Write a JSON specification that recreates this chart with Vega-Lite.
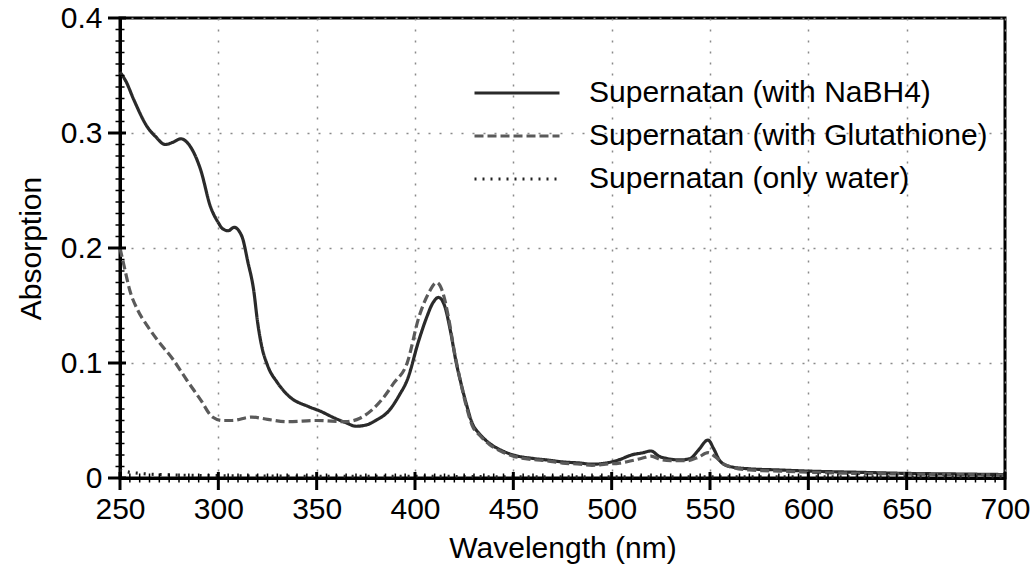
{
  "$schema": "https://vega.github.io/schema/vega-lite/v6.json",
  "width": 885,
  "height": 460,
  "autosize": {"type": "none"},
  "padding": {"left": 120, "top": 18, "right": 28, "bottom": 100},
  "config": {
    "font": "Liberation Sans",
    "view": {"stroke": "black", "strokeWidth": 3},
    "legend": {"padding": 0},
    "axis": {"labelFlush": false}
  },
  "datasets": {
    "curves": [
      {"s": "Supernatan (with NaBH4)", "wl": 250, "a": 0.353},
      {"s": "Supernatan (with NaBH4)", "wl": 253, "a": 0.345},
      {"s": "Supernatan (with NaBH4)", "wl": 257, "a": 0.329},
      {"s": "Supernatan (with NaBH4)", "wl": 264, "a": 0.305},
      {"s": "Supernatan (with NaBH4)", "wl": 268, "a": 0.297},
      {"s": "Supernatan (with NaBH4)", "wl": 273, "a": 0.290},
      {"s": "Supernatan (with NaBH4)", "wl": 277, "a": 0.292},
      {"s": "Supernatan (with NaBH4)", "wl": 281, "a": 0.295},
      {"s": "Supernatan (with NaBH4)", "wl": 284, "a": 0.292},
      {"s": "Supernatan (with NaBH4)", "wl": 291, "a": 0.268},
      {"s": "Supernatan (with NaBH4)", "wl": 296, "a": 0.236},
      {"s": "Supernatan (with NaBH4)", "wl": 300, "a": 0.222},
      {"s": "Supernatan (with NaBH4)", "wl": 302, "a": 0.217},
      {"s": "Supernatan (with NaBH4)", "wl": 305, "a": 0.215},
      {"s": "Supernatan (with NaBH4)", "wl": 308, "a": 0.218},
      {"s": "Supernatan (with NaBH4)", "wl": 312, "a": 0.210},
      {"s": "Supernatan (with NaBH4)", "wl": 315, "a": 0.188},
      {"s": "Supernatan (with NaBH4)", "wl": 318, "a": 0.163},
      {"s": "Supernatan (with NaBH4)", "wl": 320, "a": 0.135},
      {"s": "Supernatan (with NaBH4)", "wl": 322, "a": 0.115},
      {"s": "Supernatan (with NaBH4)", "wl": 325, "a": 0.098},
      {"s": "Supernatan (with NaBH4)", "wl": 330, "a": 0.083},
      {"s": "Supernatan (with NaBH4)", "wl": 336, "a": 0.071},
      {"s": "Supernatan (with NaBH4)", "wl": 346, "a": 0.062},
      {"s": "Supernatan (with NaBH4)", "wl": 352, "a": 0.058},
      {"s": "Supernatan (with NaBH4)", "wl": 358, "a": 0.053},
      {"s": "Supernatan (with NaBH4)", "wl": 365, "a": 0.048},
      {"s": "Supernatan (with NaBH4)", "wl": 370, "a": 0.045},
      {"s": "Supernatan (with NaBH4)", "wl": 375, "a": 0.046},
      {"s": "Supernatan (with NaBH4)", "wl": 380, "a": 0.050},
      {"s": "Supernatan (with NaBH4)", "wl": 387, "a": 0.059},
      {"s": "Supernatan (with NaBH4)", "wl": 392, "a": 0.072},
      {"s": "Supernatan (with NaBH4)", "wl": 396, "a": 0.085},
      {"s": "Supernatan (with NaBH4)", "wl": 402, "a": 0.120},
      {"s": "Supernatan (with NaBH4)", "wl": 406, "a": 0.140},
      {"s": "Supernatan (with NaBH4)", "wl": 409, "a": 0.152},
      {"s": "Supernatan (with NaBH4)", "wl": 412, "a": 0.157},
      {"s": "Supernatan (with NaBH4)", "wl": 415, "a": 0.150},
      {"s": "Supernatan (with NaBH4)", "wl": 418, "a": 0.128},
      {"s": "Supernatan (with NaBH4)", "wl": 421, "a": 0.100},
      {"s": "Supernatan (with NaBH4)", "wl": 423, "a": 0.085},
      {"s": "Supernatan (with NaBH4)", "wl": 426, "a": 0.065},
      {"s": "Supernatan (with NaBH4)", "wl": 429, "a": 0.048},
      {"s": "Supernatan (with NaBH4)", "wl": 433, "a": 0.038},
      {"s": "Supernatan (with NaBH4)", "wl": 438, "a": 0.030},
      {"s": "Supernatan (with NaBH4)", "wl": 444, "a": 0.024},
      {"s": "Supernatan (with NaBH4)", "wl": 450, "a": 0.020},
      {"s": "Supernatan (with NaBH4)", "wl": 460, "a": 0.017},
      {"s": "Supernatan (with NaBH4)", "wl": 467, "a": 0.0157},
      {"s": "Supernatan (with NaBH4)", "wl": 475, "a": 0.014},
      {"s": "Supernatan (with NaBH4)", "wl": 484, "a": 0.013},
      {"s": "Supernatan (with NaBH4)", "wl": 490, "a": 0.012},
      {"s": "Supernatan (with NaBH4)", "wl": 497, "a": 0.013},
      {"s": "Supernatan (with NaBH4)", "wl": 504, "a": 0.016},
      {"s": "Supernatan (with NaBH4)", "wl": 510, "a": 0.020},
      {"s": "Supernatan (with NaBH4)", "wl": 516, "a": 0.022},
      {"s": "Supernatan (with NaBH4)", "wl": 520, "a": 0.0235},
      {"s": "Supernatan (with NaBH4)", "wl": 524, "a": 0.019},
      {"s": "Supernatan (with NaBH4)", "wl": 528, "a": 0.017},
      {"s": "Supernatan (with NaBH4)", "wl": 535, "a": 0.0157},
      {"s": "Supernatan (with NaBH4)", "wl": 540, "a": 0.017},
      {"s": "Supernatan (with NaBH4)", "wl": 544, "a": 0.024},
      {"s": "Supernatan (with NaBH4)", "wl": 549, "a": 0.033},
      {"s": "Supernatan (with NaBH4)", "wl": 552, "a": 0.025},
      {"s": "Supernatan (with NaBH4)", "wl": 555, "a": 0.015},
      {"s": "Supernatan (with NaBH4)", "wl": 560, "a": 0.010},
      {"s": "Supernatan (with NaBH4)", "wl": 570, "a": 0.008},
      {"s": "Supernatan (with NaBH4)", "wl": 585, "a": 0.007},
      {"s": "Supernatan (with NaBH4)", "wl": 600, "a": 0.006},
      {"s": "Supernatan (with NaBH4)", "wl": 625, "a": 0.005},
      {"s": "Supernatan (with NaBH4)", "wl": 650, "a": 0.004},
      {"s": "Supernatan (with NaBH4)", "wl": 675, "a": 0.0035},
      {"s": "Supernatan (with NaBH4)", "wl": 700, "a": 0.003},

      {"s": "Supernatan (with Glutathione)", "wl": 250, "a": 0.200},
      {"s": "Supernatan (with Glutathione)", "wl": 252, "a": 0.185},
      {"s": "Supernatan (with Glutathione)", "wl": 255, "a": 0.163},
      {"s": "Supernatan (with Glutathione)", "wl": 259, "a": 0.146},
      {"s": "Supernatan (with Glutathione)", "wl": 264, "a": 0.132},
      {"s": "Supernatan (with Glutathione)", "wl": 269, "a": 0.120},
      {"s": "Supernatan (with Glutathione)", "wl": 277, "a": 0.103},
      {"s": "Supernatan (with Glutathione)", "wl": 284, "a": 0.085},
      {"s": "Supernatan (with Glutathione)", "wl": 291, "a": 0.068},
      {"s": "Supernatan (with Glutathione)", "wl": 297, "a": 0.053},
      {"s": "Supernatan (with Glutathione)", "wl": 302, "a": 0.050},
      {"s": "Supernatan (with Glutathione)", "wl": 307, "a": 0.050},
      {"s": "Supernatan (with Glutathione)", "wl": 317, "a": 0.053},
      {"s": "Supernatan (with Glutathione)", "wl": 325, "a": 0.051},
      {"s": "Supernatan (with Glutathione)", "wl": 335, "a": 0.049},
      {"s": "Supernatan (with Glutathione)", "wl": 350, "a": 0.050},
      {"s": "Supernatan (with Glutathione)", "wl": 365, "a": 0.049},
      {"s": "Supernatan (with Glutathione)", "wl": 372, "a": 0.052},
      {"s": "Supernatan (with Glutathione)", "wl": 378, "a": 0.059},
      {"s": "Supernatan (with Glutathione)", "wl": 384, "a": 0.070},
      {"s": "Supernatan (with Glutathione)", "wl": 389, "a": 0.082},
      {"s": "Supernatan (with Glutathione)", "wl": 396, "a": 0.100},
      {"s": "Supernatan (with Glutathione)", "wl": 402, "a": 0.140},
      {"s": "Supernatan (with Glutathione)", "wl": 407, "a": 0.161},
      {"s": "Supernatan (with Glutathione)", "wl": 411, "a": 0.170},
      {"s": "Supernatan (with Glutathione)", "wl": 414, "a": 0.162},
      {"s": "Supernatan (with Glutathione)", "wl": 417, "a": 0.140},
      {"s": "Supernatan (with Glutathione)", "wl": 420, "a": 0.110},
      {"s": "Supernatan (with Glutathione)", "wl": 423, "a": 0.085},
      {"s": "Supernatan (with Glutathione)", "wl": 426, "a": 0.063},
      {"s": "Supernatan (with Glutathione)", "wl": 429, "a": 0.046},
      {"s": "Supernatan (with Glutathione)", "wl": 433, "a": 0.037},
      {"s": "Supernatan (with Glutathione)", "wl": 438, "a": 0.029},
      {"s": "Supernatan (with Glutathione)", "wl": 444, "a": 0.023},
      {"s": "Supernatan (with Glutathione)", "wl": 450, "a": 0.019},
      {"s": "Supernatan (with Glutathione)", "wl": 460, "a": 0.016},
      {"s": "Supernatan (with Glutathione)", "wl": 467, "a": 0.015},
      {"s": "Supernatan (with Glutathione)", "wl": 475, "a": 0.013},
      {"s": "Supernatan (with Glutathione)", "wl": 484, "a": 0.012},
      {"s": "Supernatan (with Glutathione)", "wl": 490, "a": 0.011},
      {"s": "Supernatan (with Glutathione)", "wl": 497, "a": 0.012},
      {"s": "Supernatan (with Glutathione)", "wl": 504, "a": 0.013},
      {"s": "Supernatan (with Glutathione)", "wl": 510, "a": 0.015},
      {"s": "Supernatan (with Glutathione)", "wl": 515, "a": 0.017},
      {"s": "Supernatan (with Glutathione)", "wl": 520, "a": 0.019},
      {"s": "Supernatan (with Glutathione)", "wl": 525, "a": 0.016},
      {"s": "Supernatan (with Glutathione)", "wl": 530, "a": 0.015},
      {"s": "Supernatan (with Glutathione)", "wl": 538, "a": 0.015},
      {"s": "Supernatan (with Glutathione)", "wl": 544, "a": 0.018},
      {"s": "Supernatan (with Glutathione)", "wl": 549, "a": 0.022},
      {"s": "Supernatan (with Glutathione)", "wl": 553, "a": 0.018},
      {"s": "Supernatan (with Glutathione)", "wl": 557, "a": 0.012},
      {"s": "Supernatan (with Glutathione)", "wl": 562, "a": 0.009},
      {"s": "Supernatan (with Glutathione)", "wl": 570, "a": 0.007},
      {"s": "Supernatan (with Glutathione)", "wl": 585, "a": 0.006},
      {"s": "Supernatan (with Glutathione)", "wl": 600, "a": 0.005},
      {"s": "Supernatan (with Glutathione)", "wl": 625, "a": 0.004},
      {"s": "Supernatan (with Glutathione)", "wl": 650, "a": 0.0035},
      {"s": "Supernatan (with Glutathione)", "wl": 675, "a": 0.003},
      {"s": "Supernatan (with Glutathione)", "wl": 700, "a": 0.0025},

      {"s": "Supernatan (only water)", "wl": 250, "a": 0.007},
      {"s": "Supernatan (only water)", "wl": 255, "a": 0.005},
      {"s": "Supernatan (only water)", "wl": 260, "a": 0.004},
      {"s": "Supernatan (only water)", "wl": 270, "a": 0.003},
      {"s": "Supernatan (only water)", "wl": 300, "a": 0.002},
      {"s": "Supernatan (only water)", "wl": 350, "a": 0.0015},
      {"s": "Supernatan (only water)", "wl": 400, "a": 0.0015},
      {"s": "Supernatan (only water)", "wl": 450, "a": 0.001},
      {"s": "Supernatan (only water)", "wl": 500, "a": 0.001},
      {"s": "Supernatan (only water)", "wl": 550, "a": 0.001},
      {"s": "Supernatan (only water)", "wl": 600, "a": 0.001},
      {"s": "Supernatan (only water)", "wl": 650, "a": 0.001},
      {"s": "Supernatan (only water)", "wl": 700, "a": 0.001}
    ],
    "xminor": [
      {"wl": 255}, {"wl": 260}, {"wl": 265}, {"wl": 270}, {"wl": 275}, {"wl": 280}, {"wl": 285}, {"wl": 290}, {"wl": 295},
      {"wl": 305}, {"wl": 310}, {"wl": 315}, {"wl": 320}, {"wl": 325}, {"wl": 330}, {"wl": 335}, {"wl": 340}, {"wl": 345},
      {"wl": 355}, {"wl": 360}, {"wl": 365}, {"wl": 370}, {"wl": 375}, {"wl": 380}, {"wl": 385}, {"wl": 390}, {"wl": 395},
      {"wl": 405}, {"wl": 410}, {"wl": 415}, {"wl": 420}, {"wl": 425}, {"wl": 430}, {"wl": 435}, {"wl": 440}, {"wl": 445},
      {"wl": 455}, {"wl": 460}, {"wl": 465}, {"wl": 470}, {"wl": 475}, {"wl": 480}, {"wl": 485}, {"wl": 490}, {"wl": 495},
      {"wl": 505}, {"wl": 510}, {"wl": 515}, {"wl": 520}, {"wl": 525}, {"wl": 530}, {"wl": 535}, {"wl": 540}, {"wl": 545},
      {"wl": 555}, {"wl": 560}, {"wl": 565}, {"wl": 570}, {"wl": 575}, {"wl": 580}, {"wl": 585}, {"wl": 590}, {"wl": 595},
      {"wl": 605}, {"wl": 610}, {"wl": 615}, {"wl": 620}, {"wl": 625}, {"wl": 630}, {"wl": 635}, {"wl": 640}, {"wl": 645},
      {"wl": 655}, {"wl": 660}, {"wl": 665}, {"wl": 670}, {"wl": 675}, {"wl": 680}, {"wl": 685}, {"wl": 690}, {"wl": 695}
    ],
    "xmajor": [
      {"wl": 250}, {"wl": 300}, {"wl": 350}, {"wl": 400}, {"wl": 450}, {"wl": 500}, {"wl": 550}, {"wl": 600}, {"wl": 650}, {"wl": 700}
    ],
    "yminor": [
      {"a": 0.01}, {"a": 0.02}, {"a": 0.03}, {"a": 0.04}, {"a": 0.05}, {"a": 0.06}, {"a": 0.07}, {"a": 0.08}, {"a": 0.09},
      {"a": 0.11}, {"a": 0.12}, {"a": 0.13}, {"a": 0.14}, {"a": 0.15}, {"a": 0.16}, {"a": 0.17}, {"a": 0.18}, {"a": 0.19},
      {"a": 0.21}, {"a": 0.22}, {"a": 0.23}, {"a": 0.24}, {"a": 0.25}, {"a": 0.26}, {"a": 0.27}, {"a": 0.28}, {"a": 0.29},
      {"a": 0.31}, {"a": 0.32}, {"a": 0.33}, {"a": 0.34}, {"a": 0.35}, {"a": 0.36}, {"a": 0.37}, {"a": 0.38}, {"a": 0.39}
    ],
    "ymajor": [
      {"a": 0}, {"a": 0.1}, {"a": 0.2}, {"a": 0.3}, {"a": 0.4}
    ]
  },
  "layer": [
    {
      "data": {"name": "curves"},
      "mark": {"type": "line", "interpolate": "monotone"},
      "encoding": {
        "x": {
          "field": "wl", "type": "quantitative",
          "scale": {"domain": [250, 700], "nice": false, "zero": false},
          "axis": {
            "orient": "bottom", "zindex": 0,
            "values": [250,300,350,400,450,500,550,600,650,700],
            "format": "d",
            "title": "Wavelength (nm)",
            "titleFontSize": 30, "titleFontWeight": "normal", "titleColor": "black", "titlePadding": 9,
            "labelFontSize": 30, "labelColor": "black", "labelPadding": 16,
            "ticks": false,
            "domainColor": "black", "domainWidth": 3,
            "grid": true, "gridColor": "#8a8a8a", "gridDash": [2, 9], "gridWidth": 1.5
          }
        },
        "y": {
          "field": "a", "type": "quantitative",
          "scale": {"domain": [0, 0.4], "nice": false},
          "axis": {
            "orient": "left", "zindex": 0,
            "values": [0, 0.1, 0.2, 0.3, 0.4],
            "labelExpr": "datum.value == 0 ? '0' : format(datum.value, '.1f')",
            "title": "Absorption",
            "titleFontSize": 30, "titleFontWeight": "normal", "titleColor": "black", "titlePadding": 14,
            "labelFontSize": 30, "labelColor": "black", "labelPadding": 18,
            "ticks": false,
            "domainColor": "black", "domainWidth": 3,
            "grid": true, "gridColor": "#8a8a8a", "gridDash": [2, 9], "gridWidth": 1.5
          }
        },
        "color": {
          "field": "s", "type": "nominal",
          "scale": {
            "domain": ["Supernatan (with NaBH4)", "Supernatan (with Glutathione)", "Supernatan (only water)"],
            "range": ["#2a2a2a", "#5a5a5a", "#222222"]
          },
          "legend": {
            "title": null, "orient": "none", "legendX": 382, "legendY": 60,
            "symbolType": "M-8.5,0H8.5", "symbolSize": 100, "symbolStrokeWidth": 3,
            "labelFontSize": 30, "labelColor": "black", "labelOffset": 57,
            "rowPadding": 13, "labelLimit": 600
          }
        },
        "strokeDash": {
          "field": "s", "type": "nominal",
          "scale": {
            "domain": ["Supernatan (with NaBH4)", "Supernatan (with Glutathione)", "Supernatan (only water)"],
            "range": [[1, 0], [9, 4], [2, 6]]
          },
          "legend": {
            "title": null, "orient": "none", "legendX": 382, "legendY": 60,
            "symbolType": "M-8.5,0H8.5", "symbolSize": 100, "symbolStrokeWidth": 3,
            "labelFontSize": 30, "labelColor": "black", "labelOffset": 57,
            "rowPadding": 13, "labelLimit": 600
          }
        },
        "strokeWidth": {"value": 3.2}
      }
    },
    {
      "data": {"name": "xminor"},
      "mark": {"type": "tick", "orient": "vertical", "size": 9, "thickness": 1.5, "color": "black", "opacity": 1, "clip": false},
      "encoding": {
        "x": {"field": "wl", "type": "quantitative"},
        "y": {"datum": 0, "type": "quantitative"}
      }
    },
    {
      "data": {"name": "xmajor"},
      "mark": {"type": "tick", "orient": "vertical", "size": 18, "thickness": 3, "color": "black", "opacity": 1, "yOffset": 3, "clip": false},
      "encoding": {
        "x": {"field": "wl", "type": "quantitative"},
        "y": {"datum": 0, "type": "quantitative"}
      }
    },
    {
      "data": {"name": "yminor"},
      "mark": {"type": "tick", "orient": "horizontal", "size": 9, "thickness": 1.5, "color": "black", "opacity": 1, "clip": false},
      "encoding": {
        "y": {"field": "a", "type": "quantitative"},
        "x": {"datum": 250, "type": "quantitative"}
      }
    },
    {
      "data": {"name": "ymajor"},
      "mark": {"type": "tick", "orient": "horizontal", "size": 18, "thickness": 3, "color": "black", "opacity": 1, "xOffset": -3, "clip": false},
      "encoding": {
        "y": {"field": "a", "type": "quantitative"},
        "x": {"datum": 250, "type": "quantitative"}
      }
    }
  ]
}
